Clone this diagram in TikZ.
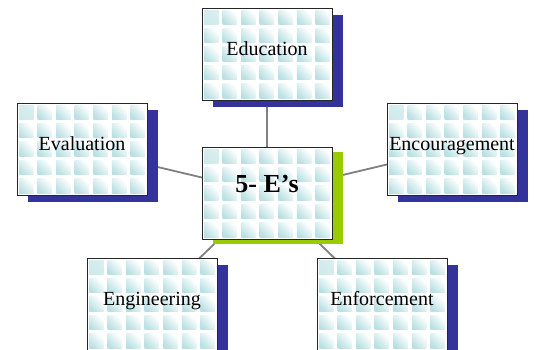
\documentclass[tikz,border=0pt]{standalone}
\usepackage{fontspec}
\setmainfont{Liberation Serif}
\usepackage{tikz}
\usetikzlibrary{shadows,backgrounds}
\definecolor{eblue}{RGB}{51,51,153}
\definecolor{egreen}{RGB}{153,204,0}
\definecolor{etile}{RGB}{186,224,227}
\colorlet{elinkgray}{black!50}
\tikzset{
  etiles/.style={
    path picture={
      \foreach \i in {0,...,6}{
        \foreach \j in {0,...,4}{
          \shade[top color=white,bottom color=etile,shading angle=-45]
            ([xshift=\i*18.57pt+2pt,yshift=-\j*18.4pt-2pt]path picture bounding box.north west)
            rectangle ++(14.5pt,-14.5pt);
        }
      }
    }
  },
  ebox/.style={
    etiles,
    draw=black!85,
    line width=0.9pt,
    fill=white,
    minimum width=130pt,
    minimum height=92pt,
    inner sep=0pt,
    text height=14pt,
    text depth=11pt,
    font=\fontsize{20}{22}\selectfont
  },
  eleaf/.style={ebox,drop shadow={shadow xshift=11pt,shadow yshift=-7pt,fill=eblue,opacity=1}},
  ehub/.style={ebox,drop shadow={shadow xshift=11pt,shadow yshift=-5pt,fill=egreen,opacity=1},
               text height=18pt,text depth=20pt,
               font=\fontsize{26}{28}\selectfont\bfseries},
  elink/.style={line width=1.8pt,elinkgray}
}
\begin{document}
\begin{tikzpicture}[x=1pt,y=-1pt]
  \clip (0,0) rectangle (534,349);

  \node[ehub] (hub) at (267,193) {5- E’s};
  \node[eleaf] (edu) at (267,54) {Education};
  \node[eleaf] (eva) at (82,149) {Evaluation};
  \node[eleaf] (enc) at (452,149) {Encouragement};
  \node[eleaf] (eng) at (152,304) {Engineering};
  \node[eleaf] (enf) at (382,304) {Enforcement};

  \begin{scope}[on background layer]
    \draw[elink] (hub.center) -- (edu.center);
    \draw[elink] (hub.center) -- (eva.center);
    \draw[elink] (hub.center) -- (enc.center);
    \draw[elink] (hub.center) -- (eng.center);
    \draw[elink] (hub.center) -- (enf.center);
  \end{scope}
\end{tikzpicture}
\end{document}
